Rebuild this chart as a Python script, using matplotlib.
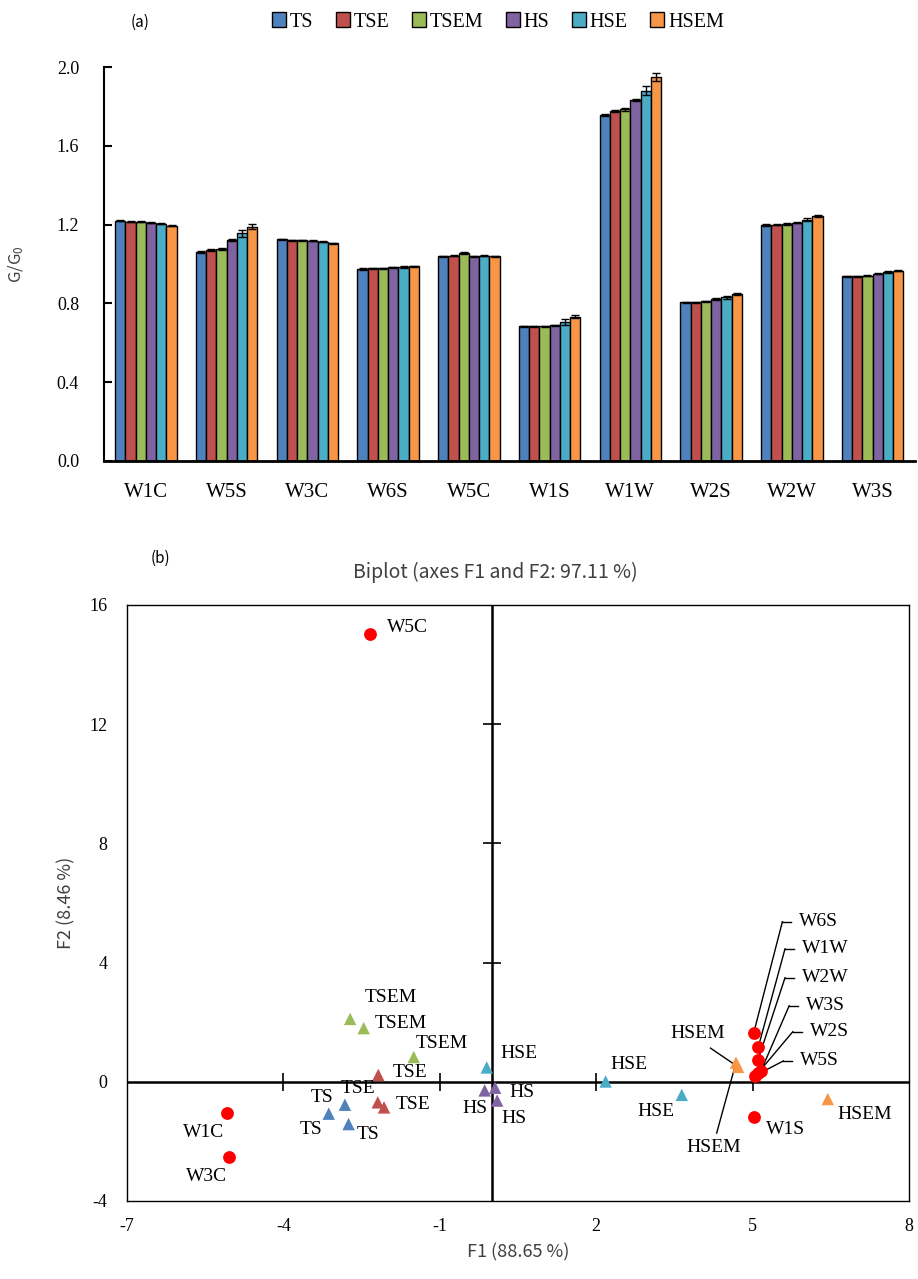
import numpy as np
import matplotlib.pyplot as plt

plt.rcParams['font.family'] = ['Liberation Serif', 'DejaVu Serif']
plt.rcParams['mathtext.default'] = 'regular'
plt.rcParams['axes.unicode_minus'] = False
SANS = ['Noto Sans CJK JP', 'DejaVu Sans']

# ---- panel (a) data ----
samples = ['W1C', 'W5S', 'W3C', 'W6S', 'W5C', 'W1S', 'W1W', 'W2S', 'W2W', 'W3S']
treatments = ['TS', 'TSE', 'TSEM', 'HS', 'HSE', 'HSEM']
colors = ['#4F81BD', '#C0504D', '#9BBB59', '#8064A2', '#4BACC6', '#F79646']

g_ts   = [1.220, 1.060, 1.125, 0.975, 1.039, 0.684, 1.756, 0.806, 1.198, 0.937]
g_tse  = [1.215, 1.070, 1.120, 0.978, 1.043, 0.684, 1.777, 0.806, 1.200, 0.937]
g_tsem = [1.215, 1.075, 1.120, 0.978, 1.057, 0.683, 1.785, 0.810, 1.203, 0.940]
g_hs   = [1.210, 1.120, 1.118, 0.983, 1.039, 0.689, 1.832, 0.822, 1.210, 0.951]
g_hse  = [1.205, 1.155, 1.113, 0.985, 1.043, 0.705, 1.880, 0.830, 1.225, 0.958]
g_hsem = [1.195, 1.190, 1.105, 0.988, 1.039, 0.733, 1.950, 0.846, 1.245, 0.966]

e_ts   = [0.004, 0.004, 0.003, 0.003, 0.003, 0.003, 0.006, 0.003, 0.003, 0.003]
e_tse  = [0.003, 0.004, 0.003, 0.003, 0.003, 0.003, 0.005, 0.003, 0.003, 0.003]
e_tsem = [0.003, 0.004, 0.003, 0.003, 0.005, 0.003, 0.006, 0.004, 0.003, 0.003]
e_hs   = [0.003, 0.005, 0.003, 0.003, 0.003, 0.003, 0.006, 0.004, 0.004, 0.003]
e_hse  = [0.004, 0.018, 0.003, 0.003, 0.004, 0.014, 0.022, 0.008, 0.007, 0.004]
e_hsem = [0.004, 0.011, 0.003, 0.003, 0.004, 0.007, 0.022, 0.005, 0.006, 0.004]

# ---- panel (b) data ----
obs_names = ['W5C', 'W1C', 'W3C', 'W1S', 'W6S', 'W1W', 'W2W', 'W3S', 'W2S', 'W5S']
obs_f1 = [-2.34, -5.09, -5.04, 5.02, 5.02, 5.11, 5.10, 5.16, 5.10, 5.04]
obs_f2 = [15.03, -1.04, -2.52, -1.17, 1.64, 1.18, 0.72, 0.37, 0.29, 0.20]

var_names = ['TS'] * 3 + ['TSE'] * 3 + ['TSEM'] * 3 + ['HS'] * 3 + ['HSE'] * 3 + ['HSEM'] * 3
var_f1 = [-3.13, -2.82, -2.75, -2.18, -2.19, -2.07, -2.72, -2.46, -1.50,
          -0.14, 0.06, 0.10, -0.10, 2.18, 3.64, 4.72, 4.68, 6.44]
var_f2 = [-1.07, -0.77, -1.42, 0.23, -0.69, -0.86, 2.11, 1.80, 0.83,
          -0.29, -0.20, -0.63, 0.48, 0.01, -0.44, 0.50, 0.64, -0.58]

fig = plt.figure(figsize=(9.18, 12.79), dpi=100)

# ================= (a) bars =================
ax1 = fig.add_axes([0.1133, 0.6396, 0.883, 0.308])
x = np.arange(len(samples))
w = 0.127
series = [g_ts, g_tse, g_tsem, g_hs, g_hse, g_hsem]
errs = [e_ts, e_tse, e_tsem, e_hs, e_hse, e_hsem]
for i, (vals, err) in enumerate(zip(series, errs)):
    ax1.bar(x + (i - 2.5) * w, vals, w, yerr=err, color=colors[i], edgecolor='black',
            linewidth=1, label=treatments[i], capsize=3,
            error_kw=dict(elinewidth=1, capthick=1, ecolor='black'))
ax1.set_xlim(-0.52, 9.52)
ax1.set_ylim(0, 2.0)
ax1.set_yticks(np.arange(0, 2.01, 0.4))
ax1.set_yticklabels([f'{v:.1f}' for v in np.arange(0, 2.01, 0.4)], fontsize=13)
ax1.set_xticks(x)
ax1.set_xticklabels(samples, fontsize=15)
ax1.tick_params(axis='x', length=0, pad=16)
ax1.tick_params(axis='y', direction='in', length=6, width=1.5, pad=18)
for s in ['top', 'right']:
    ax1.spines[s].set_visible(False)
ax1.spines['bottom'].set_linewidth(2)
ax1.spines['left'].set_linewidth(1.5)
ax1.set_ylabel('G/G$_0$', fontsize=12, family=SANS, color='#404040', labelpad=22)

fig.legend(*ax1.get_legend_handles_labels(), loc='center', ncol=6,
           bbox_to_anchor=(498 / 918, 1 - 22 / 1279), frameon=False, fontsize=14.5,
           handlelength=0.7, handleheight=0.7, handletextpad=0.2, columnspacing=1.1)
fig.text(140 / 918, 1 - 22 / 1279, '(a)', family=SANS, fontsize=11, ha='center', va='center')

# ================= (b) biplot =================
ax2 = fig.add_axes([0.1383, 0.061, 0.852, 0.466])
ax2.set_xlim(-7, 8)
ax2.set_ylim(-4, 16)
ax2.axhline(0, color='black', lw=1.8, zorder=1)
ax2.axvline(0, color='black', lw=1.8, zorder=1)
for s in ax2.spines.values():
    s.set_linewidth(1)
ax2.set_xticks([-7, -4, -1, 2, 5, 8])
ax2.set_yticks([-4, 0, 4, 8, 12, 16])
ax2.tick_params(length=0, labelsize=13)
ax2.tick_params(axis='x', pad=12)
ax2.tick_params(axis='y', pad=14)
ax2.plot([-4, -1, 2, 5], [0] * 4, linestyle='none', marker='|', ms=13, mew=1.2,
         color='black', zorder=1)
ax2.plot([0] * 3, [4, 8, 12], linestyle='none', marker='_', ms=13, mew=1.2,
         color='black', zorder=1)

var_colors = {t: c for t, c in zip(treatments, colors)}
ax2.scatter(var_f1, var_f2, marker='^', s=80, c=[var_colors[n] for n in var_names],
            zorder=3, linewidths=0)
ax2.scatter(obs_f1, obs_f2, marker='o', s=85, color='#FF0000', zorder=4, linewidths=0)

lab_kw = dict(fontsize=14, ha='center', va='center', zorder=5)
# plain labels for the variable triangles (text positions)
var_labels = [('TS', -3.26, -0.54), ('TS', -3.47, -1.61), ('TS', -2.38, -1.78),
              ('TSE', -1.57, 0.30), ('TSE', -2.57, -0.23), ('TSE', -1.51, -0.77),
              ('TSEM', -1.94, 2.82), ('TSEM', -1.75, 1.95), ('TSEM', -0.96, 1.28),
              ('HSE', 0.51, 0.94), ('HSE', 2.62, 0.57), ('HSE', 3.15, -1.01),
              ('HS', 0.57, -0.37), ('HS', -0.32, -0.91), ('HS', 0.42, -1.24),
              ('HSEM', 7.15, -1.11)]
for t, lx, ly in var_labels:
    ax2.text(lx, ly, t, **lab_kw)

obs_labels = [('W5C', -1.62, 15.23), ('W1C', -5.53, -1.71), ('W3C', -5.47, -3.19),
              ('W1S', 5.64, -1.61)]
for t, lx, ly in obs_labels:
    ax2.text(lx, ly, t, **lab_kw)

# labels with leader lines: (index of observation, text left x, text y)
leader_obs = [(4, 5.89, 5.37), (5, 5.94, 4.46), (6, 5.94, 3.49),
              (7, 6.02, 2.55), (8, 6.09, 1.68), (9, 5.91, 0.70)]
for idx, lx, ly in leader_obs:
    ax2.text(lx, ly, obs_names[idx], fontsize=14, ha='left', va='center', zorder=5)
    ax2.plot([lx - 0.32, lx - 0.15], [ly, ly], color='black', lw=1, zorder=2)
    ax2.plot([lx - 0.32, obs_f1[idx]], [ly, obs_f2[idx]], color='black', lw=1, zorder=2)

# HSEM labels with leaders (variable index, text x, text y, line start x, y)
leader_var = [(15, 3.94, 1.63, 4.19, 1.13), (16, 4.25, -2.21, 4.31, -1.72)]
for idx, lx, ly, sx, sy in leader_var:
    ax2.text(lx, ly, var_names[idx], **lab_kw)
    ax2.plot([sx, var_f1[idx]], [sy, var_f2[idx]], color='black', lw=1, zorder=2)

ax2.set_xlabel('F1 (88.65 %)', family=SANS, fontsize=13, color='#404040', labelpad=6)
ax2.set_ylabel('F2 (8.46 %)', family=SANS, fontsize=13, color='#404040', labelpad=10)
fig.text(495 / 918, 1 - 572 / 1279, 'Biplot (axes F1 and F2: 97.11 %)', family=SANS,
         fontsize=14, color='#404040', ha='center', va='center')
fig.text(160 / 918, 1 - 558 / 1279, '(b)', family=SANS, fontsize=11, ha='center', va='center')

fig.savefig('out.png', dpi=100)
